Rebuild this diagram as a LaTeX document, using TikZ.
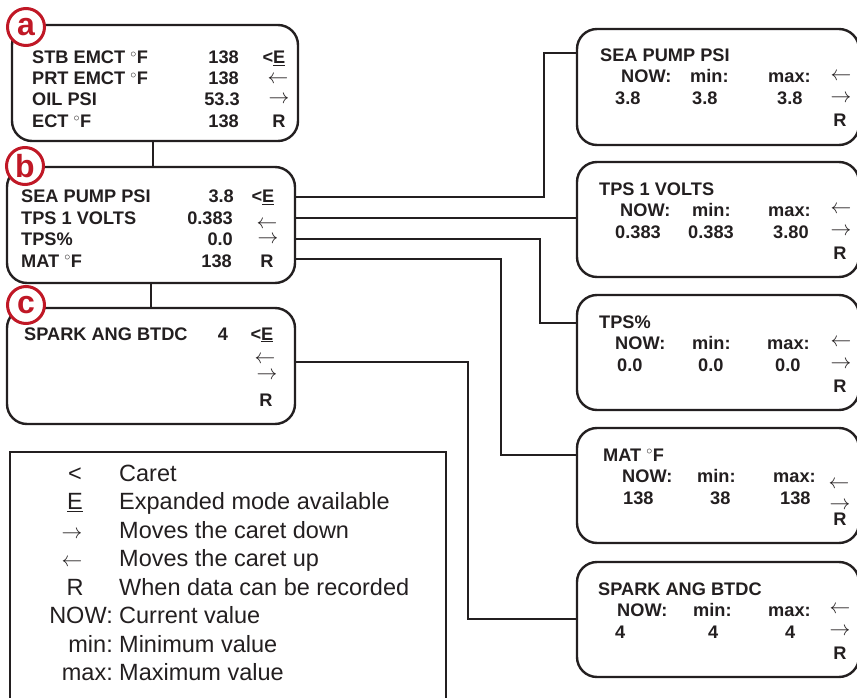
\documentclass[tikz,border=0pt]{standalone}
\usepackage{fontspec}
\setmainfont{Liberation Sans}
\definecolor{ink}{RGB}{35,31,32}
\definecolor{badgered}{RGB}{192,24,38}
\tikzset{
  box/.style={draw=ink, line width=2.4pt, rounded corners=20pt, fill=white, inner sep=0pt, outer sep=0pt, anchor=north west},
  badge/.style={circle, draw=badgered, fill=white, line width=3pt, minimum size=37pt, inner sep=0pt, text=badgered, font=\fontsize{32}{32}\selectfont\bfseries},
  lbl/.style={anchor=base west, inner sep=0pt, text=ink, font=\fontsize{18.2}{20}\selectfont\bfseries},
  val/.style={lbl, anchor=base east},
  sym/.style={lbl, anchor=base},
  arr/.style={inner sep=0pt, text=ink, font=\fontsize{20}{20}\selectfont},
  conn/.style={draw=ink, line width=2pt},
  legtext/.style={anchor=base west, inner sep=0pt, text=ink, font=\fontsize{23.5}{26}\selectfont},
  legkey/.style={legtext, anchor=base},
  legkeyr/.style={legtext, anchor=base east},
  legarr/.style={anchor=base, inner sep=0pt, text=ink, font=\fontsize{20}{20}\selectfont}
}
\begin{document}
\begin{tikzpicture}[x=1pt,y=-1pt]
\useasboundingbox (0,0) rectangle (857,698);
% ---------- connector bend points ----------
\coordinate (k1) at (544,53);
\coordinate (k2) at (0,218);
\coordinate (k3) at (540,323);
\coordinate (k4) at (501,455);
\coordinate (k5) at (468,619);
\coordinate (kab) at (153,0);
\coordinate (kbc) at (151,0);
% ---------- left boxes ----------
\node[box, minimum width=286pt, minimum height=116pt] (a) at (12,25) {};
\node[box, minimum width=288pt, minimum height=116pt] (b) at (7,167) {};
\node[box, minimum width=288pt, minimum height=116pt] (c) at (7,308) {};
% ---------- right boxes ----------
\node[box, minimum width=282pt, minimum height=116pt] (r1) at (577,29) {};
\node[box, minimum width=282pt, minimum height=115pt] (r2) at (577,162) {};
\node[box, minimum width=282pt, minimum height=115pt] (r3) at (577,295) {};
\node[box, minimum width=282pt, minimum height=115pt] (r4) at (577,428) {};
\node[box, minimum width=282pt, minimum height=115pt] (r5) at (577,562) {};
% ---------- connectors ----------
\draw[conn] (a.south -| kab) -- (b.north -| kab);
\draw[conn] (b.south -| kbc) -- (c.north -| kbc);
\draw[conn] (b.east |- 0,197) -| (k1) -- (r1.west |- k1);
\draw[conn] (b.east |- k2) -- (r2.west |- k2);
\draw[conn] (b.east |- 0,239) -| (k3) -- (r3.west |- k3);
\draw[conn] (b.east |- 0,259) -| (k4) -- (r4.west |- k4);
\draw[conn] (c.east |- 0,362) -| (k5) -- (r5.west |- k5);
% ---------- badges ----------
\node[badge] (la) at (26,27) {a};
\node[badge] (lb) at (25,166) {b};
\node[badge] (lc) at (26,305) {c};
% ---------- box a text ----------
\node[lbl] (a1) at (32,64) {STB EMCT $^{\circ}$F};
\node[lbl] (a2) at (32,85) {PRT EMCT $^{\circ}$F};
\node[lbl] (a3) at (32,106) {OIL PSI};
\node[lbl] (a4) at (32,128) {ECT $^{\circ}$F};
\node[val] (av1) at (239,64) {138};
\node[val] (av2) at (239,85) {138};
\node[val] (av3) at (240,106) {53.3};
\node[val] (av4) at (239,128) {138};
\node[sym] (as1) at (274,64) {<\underline{E}};
\node[arr] (as2) at (278,80) {$\leftarrow$};
\node[arr] (as3) at (279,100) {$\rightarrow$};
\node[sym] (as4) at (279,128) {R};
% ---------- box b text ----------
\node[lbl] (b1) at (21,203) {SEA PUMP PSI};
\node[lbl] (b2) at (21,224) {TPS 1 VOLTS};
\node[lbl] (b3) at (21,245) {TPS\%};
\node[lbl] (b4) at (21,267) {MAT $^{\circ}$F};
\node[val] (bv1) at (234,203) {3.8};
\node[val] (bv2) at (233,224) {0.383};
\node[val] (bv3) at (233,245) {0.0};
\node[val] (bv4) at (232,267) {138};
\node[sym] (bs1) at (263,203) {<\underline{E}};
\node[arr] (bs2) at (267,225) {$\leftarrow$};
\node[arr] (bs3) at (268,240) {$\rightarrow$};
\node[sym] (bs4) at (267,267) {R};
% ---------- box c text ----------
\node[lbl] (c1) at (24,340) {SPARK ANG BTDC};
\node[sym] (cv1) at (223,340) {4};
\node[sym] (cs1) at (262,340) {<\underline{E}};
\node[arr] (cs2) at (265,360) {$\leftarrow$};
\node[arr] (cs3) at (267,376) {$\rightarrow$};
\node[sym] (cs4) at (266,406) {R};
% ---------- right box 1 ----------
\node[lbl] (t1) at (600,62) {SEA PUMP PSI};
\node[lbl] (n1) at (621,83) {NOW:};
\node[lbl] (m1) at (690,83) {min:};
\node[lbl] (x1) at (768,83) {max:};
\node[lbl] (nv1) at (615,105) {3.8};
\node[lbl] (mv1) at (692,105) {3.8};
\node[lbl] (xv1) at (777,105) {3.8};
\node[arr] (l1) at (841,77) {$\leftarrow$};
\node[arr] (g1) at (841,99) {$\rightarrow$};
\node[sym] (R1) at (840,127) {R};
% ---------- right box 2 ----------
\node[lbl] (t2) at (599,195) {TPS 1 VOLTS};
\node[lbl] (n2) at (620,216) {NOW:};
\node[lbl] (m2) at (692,216) {min:};
\node[lbl] (x2) at (768,216) {max:};
\node[lbl] (nv2) at (615,238) {0.383};
\node[lbl] (mv2) at (688,238) {0.383};
\node[lbl] (xv2) at (773,238) {3.80};
\node[arr] (l2) at (841,210) {$\leftarrow$};
\node[arr] (g2) at (841,232) {$\rightarrow$};
\node[sym] (R2) at (840,259) {R};
% ---------- right box 3 ----------
\node[lbl] (t3) at (599,328) {TPS\%};
\node[lbl] (n3) at (615,349) {NOW:};
\node[lbl] (m3) at (692,349) {min:};
\node[lbl] (x3) at (767,349) {max:};
\node[lbl] (nv3) at (617,371) {0.0};
\node[lbl] (mv3) at (698,371) {0.0};
\node[lbl] (xv3) at (775,371) {0.0};
\node[arr] (l3) at (841,343) {$\leftarrow$};
\node[arr] (g3) at (841,365) {$\rightarrow$};
\node[sym] (R3) at (840,392) {R};
% ---------- right box 4 ----------
\node[lbl] (t4) at (603,461) {MAT $^{\circ}$F};
\node[lbl] (n4) at (622,482) {NOW:};
\node[lbl] (m4) at (697,482) {min:};
\node[lbl] (x4) at (773,482) {max:};
\node[lbl] (nv4) at (623,504) {138};
\node[lbl] (mv4) at (710,504) {38};
\node[lbl] (xv4) at (780,504) {138};
\node[arr] (l4) at (839,485) {$\leftarrow$};
\node[arr] (g4) at (840,506) {$\rightarrow$};
\node[sym] (R4) at (840,525) {R};
% ---------- right box 5 ----------
\node[lbl] (t5) at (598,595) {SPARK ANG BTDC};
\node[lbl] (n5) at (617,616) {NOW:};
\node[lbl] (m5) at (693,616) {min:};
\node[lbl] (x5) at (768,616) {max:};
\node[lbl] (nv5) at (615,638) {4};
\node[lbl] (mv5) at (708,638) {4};
\node[lbl] (xv5) at (785,638) {4};
\node[arr] (l5) at (840,610) {$\leftarrow$};
\node[arr] (g5) at (840,632) {$\rightarrow$};
\node[sym] (R5) at (840,659) {R};
% ---------- legend ----------
\draw[draw=ink, line width=2pt] (10,699) -- (10,452) -- (446,452) -- (446,699);
\node[legkey] (k_c) at (75,481) {<};
\node[legkey] (k_e) at (75,509.5) {\underline{E}};
\node[legarr] (k_d) at (72,538) {$\rightarrow$};
\node[legarr] (k_u) at (72,566.5) {$\leftarrow$};
\node[legkey] (k_r) at (75,595) {R};
\node[legkeyr] (k_n) at (113,623.5) {NOW:};
\node[legkeyr] (k_mi) at (113,652) {min:};
\node[legkeyr] (k_ma) at (113,680.5) {max:};
\node[legtext] (d1) at (119,481) {Caret};
\node[legtext] (d2) at (119,509.5) {Expanded mode available};
\node[legtext] (d3) at (119,538) {Moves the caret down};
\node[legtext] (d4) at (119,566.5) {Moves the caret up};
\node[legtext] (d5) at (119,595) {When data can be recorded};
\node[legtext] (d6) at (119,623.5) {Current value};
\node[legtext] (d7) at (119,652) {Minimum value};
\node[legtext] (d8) at (119,680.5) {Maximum value};
\end{tikzpicture}
\end{document}
